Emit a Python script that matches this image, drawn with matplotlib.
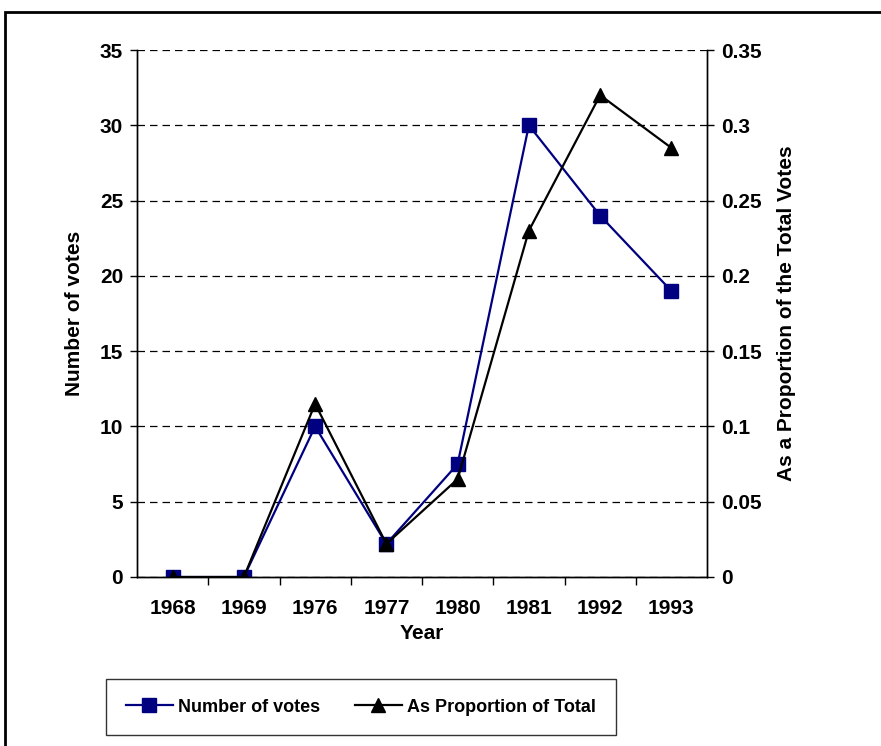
import matplotlib.pyplot as plt
from matplotlib.patches import Rectangle

years = ["1968", "1969", "1976", "1977", "1980", "1981", "1992", "1993"]
votes = [0, 0, 10, 2.2, 7.5, 30, 24, 19]
proportion = [0, 0, 0.115, 0.022, 0.065, 0.23, 0.32, 0.285]

plt.rcParams['font.family'] = ['Liberation Sans', 'DejaVu Sans']
plt.rcParams['font.weight'] = 'bold'
plt.rcParams['axes.labelweight'] = 'bold'
plt.rcParams['font.size'] = 15


def main():
    fig = plt.figure(figsize=(8.81, 7.46), dpi=100)
    # outer chart border (right and bottom edges fall off the picture)
    fig.patches.append(Rectangle((5 / 881, -0.01), 1.0, 1 - 12 / 746 + 0.01,
                                 transform=fig.transFigure, fill=False,
                                 edgecolor='black', linewidth=2))

    ax = fig.add_axes([137 / 881, 1 - 577 / 746, 570 / 881, 527 / 746])
    ax2 = ax.twinx()

    x = list(range(len(years)))
    ax.plot(x, votes, color='#000080', linewidth=1.6, marker='s',
            markersize=9.5, label='Number of votes', zorder=3)
    ax2.plot(x, proportion, color='black', linewidth=1.6, marker='^',
             markersize=10, label='As Proportion of Total', zorder=3)

    ax.set_xlim(-0.5, len(years) - 0.5)
    ax.set_ylim(0, 35)
    ax2.set_ylim(0, 0.35)
    ax.set_yticks(range(0, 36, 5))
    ax2.set_yticks([i * 0.05 for i in range(8)])
    ax2.set_yticklabels(["0", "0.05", "0.1", "0.15", "0.2", "0.25", "0.3", "0.35"])

    # category labels centred, tick marks between categories
    ax.set_xticks(x)
    ax.set_xticklabels(years)
    ax.tick_params(axis='x', length=0, pad=16)
    ax.set_xticks([i + 0.5 for i in range(len(years) - 1)], minor=True)
    ax.tick_params(axis='x', which='minor', length=6, direction='out', width=1)
    ax.tick_params(axis='y', length=5, direction='out', width=1, pad=5)
    ax2.tick_params(axis='y', length=5, direction='out', width=1, pad=5)

    ax.grid(axis='y', linestyle=(0, (6, 4)), color='black', linewidth=0.9)
    ax.set_axisbelow(True)
    for a in (ax, ax2):
        a.spines['top'].set_visible(False)
        for s in ('left', 'right', 'bottom'):
            a.spines[s].set_linewidth(1)
    ax.patch.set_visible(False)

    ax.set_xlabel("Year", labelpad=4)
    ax.set_ylabel("Number of votes", labelpad=11)
    ax2.set_ylabel("As a Proportion of the Total Votes", labelpad=11)

    h1, l1 = ax.get_legend_handles_labels()
    h2, l2 = ax2.get_legend_handles_labels()
    fig.legend(h1 + h2, l1 + l2, loc='center',
               bbox_to_anchor=(361 / 881, 1 - 707 / 746), ncol=2,
               frameon=True, fancybox=False, edgecolor='black',
               handlelength=2.6, handletextpad=0.3, columnspacing=1.9,
               borderpad=1.1, borderaxespad=0,
               prop={'weight': 'bold', 'size': 13})

    fig.savefig("out.png", dpi=100)


if __name__ == "__main__":
    main()
